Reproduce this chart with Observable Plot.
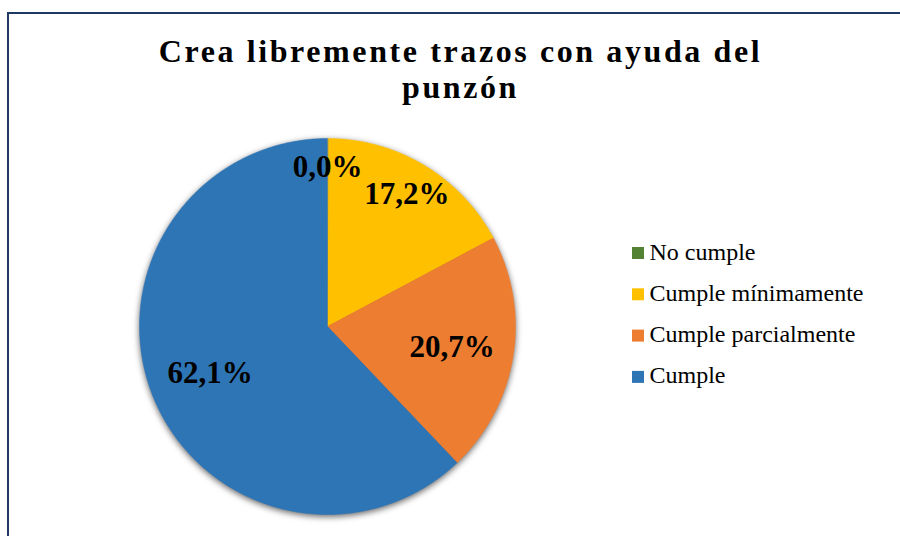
<!DOCTYPE html>
<html>
<head>
<meta charset="utf-8">
<script src="https://cdn.jsdelivr.net/npm/d3@7"></script>
<script src="https://cdn.jsdelivr.net/npm/@observablehq/plot@0.6"></script>
<style>
  html, body { margin: 0; padding: 0; background: #fff; }
  #wrap { position: relative; width: 900px; height: 536px; overflow: hidden; }
  #border { position: absolute; left: 7px; top: 12px; width: 1000px; height: 1000px;
            border-left: 2px solid #1F3864; border-top: 2px solid #1F3864; box-sizing: border-box; }
  #chart { position: absolute; left: 0; top: 0; }
  .pieshadow { filter: drop-shadow(0px 2px 3px rgba(0,0,0,0.6)); }
  .titletext text { letter-spacing: 2.6px; }
</style>
</head>
<body>
<div id="wrap"><div id="border"></div><div id="chart"></div></div>
<script>
// ---- data ----
const categories = ["No cumple", "Cumple mínimamente", "Cumple parcialmente", "Cumple"];
const percents = [0.0, 17.2, 20.7, 62.1];
const colors = ["#548235", "#FFC000", "#ED7D31", "#2E75B6"];
const titleLines = ["Crea libremente trazos con ayuda del", "punzón"];

// ---- layout ----
const W = 900, H = 536;
const CX = 327, CY = 326, R = 188;
const labelFrac = [0.846, 0.822, 0.672, 0.673];
const legendX = 632, legendY0 = 259, legendStep = 41.3, swatch = 12;
const font = "'Liberation Serif', 'Times New Roman', serif";

const arcs = d3.pie().sort(null).value(d => d.value)(
  categories.map((c, i) => ({category: c, value: percents[i]}))
);

const pts = [];
arcs.forEach(a => {
  if (a.data.value <= 0) return;
  const c = a.data.category;
  pts.push({category: c, px: CX, py: CY});
  const n = Math.max(2, Math.ceil((a.endAngle - a.startAngle) / 0.005));
  for (let k = 0; k <= n; k++) {
    const t = a.startAngle + (a.endAngle - a.startAngle) * k / n;
    pts.push({category: c, px: CX + R * Math.sin(t), py: CY - R * Math.cos(t)});
  }
});

const fmt = v => v.toFixed(1).replace(".", ",") + "%";
const labels = arcs.map((a, i) => {
  const m = (a.startAngle + a.endAngle) / 2;
  return {text: fmt(a.data.value), lx: CX + R * labelFrac[i] * Math.sin(m), ly: CY - R * labelFrac[i] * Math.cos(m)};
});

const legend = categories.map((c, i) => ({category: c, y: legendY0 + i * legendStep}));

const chart = Plot.plot({
  width: W, height: H, margin: 0,
  style: {background: "transparent", fontFamily: font},
  x: {domain: [0, W], range: [0, W], axis: null},
  y: {domain: [0, H], range: [0, H], axis: null},
  color: {domain: categories, range: colors},
  marks: [
    Plot.text([titleLines.join("\n")], {
      x: () => 460, y: () => 35, text: d => d, lineAnchor: "top", lineHeight: 1.15,
      fontSize: 32, fontWeight: "bold", fill: "#000", fontFamily: font
    }),
    Plot.line(pts, {
      x: "px", y: "py", z: "category", fill: "category", stroke: "category",
      strokeWidth: 0.5, curve: "linear-closed"
    }),
    Plot.text(labels, {
      x: "lx", y: "ly", text: "text", fontSize: 31, fontWeight: "bold",
      fill: "#000", fontFamily: font
    }),
    Plot.rect(legend, {
      x1: () => legendX, x2: () => legendX + swatch,
      y1: d => d.y - swatch, y2: d => d.y, fill: "category"
    }),
    Plot.text(legend, {
      x: () => legendX + swatch + 5, y: "y", text: "category", textAnchor: "start",
      lineAnchor: "bottom", fontSize: 24, fill: "#000", fontFamily: font
    })
  ]
});
const groups = chart.querySelectorAll(":scope > g");
// order of groups follows marks order
if (groups[0]) groups[0].classList.add("titletext");
if (groups[1]) groups[1].classList.add("pieshadow");
document.getElementById("chart").appendChild(chart);
</script>
</body>
</html>
